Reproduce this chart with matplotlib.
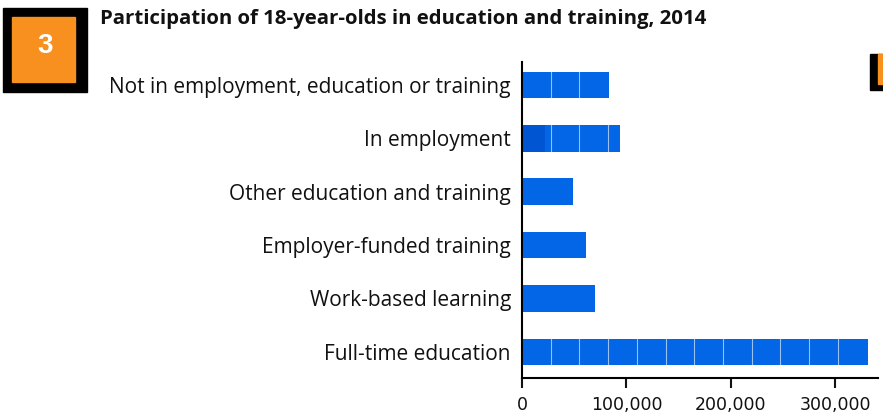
import matplotlib.pyplot as plt
from matplotlib.patches import Rectangle
from matplotlib.ticker import FuncFormatter

categories = [
    "Full-time education",
    "Work-based learning",
    "Employer-funded training",
    "Other education and training",
    "In employment",
    "Not in employment, education or training",
]
values = [331000, 70000, 61000, 49000, 94000, 83000]
# bars that show thin white segment lines in the original
segmented = [True, False, False, False, True, True]
seg_step = 27500
title = "Participation of 18-year-olds in education and training, 2014"

blue = "#0366E6"
fig = plt.figure(figsize=(8.83, 4.17), dpi=100)
ax = fig.add_axes([522 / 883, 1 - 378 / 417, 356 / 883, 316 / 417])

ypos = list(range(len(categories)))
ax.barh(ypos, values, height=0.5, color=blue, zorder=2)

# white separators inside segmented bars
for y, v, s in zip(ypos, values, segmented):
    if not s:
        continue
    b = seg_step
    while b < v - 3000:
        ax.plot([b, b], [y - 0.25, y + 0.25], color="white", lw=0.8, alpha=0.6, zorder=3)
        b += seg_step
# darker first block on the "In employment" bar
ax.barh(4, 22000, height=0.5, color="#0055D2", zorder=2.5)

ax.set_xlim(0, 341000)
ax.set_ylim(-0.49, 5.43)
ax.set_yticks(ypos)
ax.set_yticklabels(categories, family="Open Sans", fontsize=15, color="#111111")
ax.tick_params(axis="y", length=0, pad=8)
ax.set_xticks([0, 100000, 200000, 300000])
ax.xaxis.set_major_formatter(FuncFormatter(lambda v, p: f"{int(v):,}"))
ax.tick_params(axis="x", length=7, width=1.5, labelsize=12.5, pad=6, colors="#111111")
for lab in ax.get_xticklabels():
    lab.set_family("DejaVu Sans")

for side in ["top", "right"]:
    ax.spines[side].set_visible(False)
ax.spines["left"].set_linewidth(1.5)
ax.spines["bottom"].set_linewidth(1.5)

# numbered box at top-left
fig.patches.append(Rectangle((3 / 883, 1 - 92 / 417), 84 / 883, 84 / 417,
                             transform=fig.transFigure, color="black", zorder=1))
fig.patches.append(Rectangle((12 / 883, 1 - 82 / 417), 63 / 883, 65 / 417,
                             transform=fig.transFigure, color="#F7901E", zorder=2))
fig.text(45 / 883, 1 - 46 / 417, "3", color="white", fontsize=20, fontweight="bold",
         family="Liberation Sans", ha="center", va="center")
# next panel's box peeking in at right edge
fig.patches.append(Rectangle((870 / 883, 1 - 90 / 417), 20 / 883, 36 / 417,
                             transform=fig.transFigure, color="black", zorder=1))
fig.patches.append(Rectangle((878 / 883, 1 - 84 / 417), 20 / 883, 30 / 417,
                             transform=fig.transFigure, color="#F7901E", zorder=2))

fig.text(100 / 883, 1 - 19 / 417, title, fontsize=14.7, fontweight="bold",
         family="Open Sans", ha="left", va="center", color="#111111")

fig.savefig("out.png", dpi=100)
